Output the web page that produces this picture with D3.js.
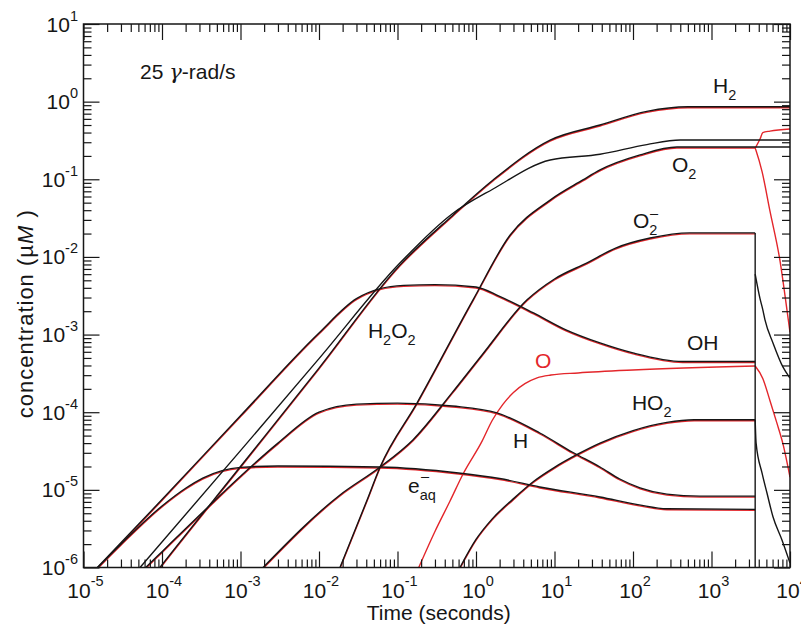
<!DOCTYPE html>
<html>
<head>
<meta charset="utf-8">
<script src="https://cdn.jsdelivr.net/npm/d3@7/dist/d3.min.js"></script>
<style>
  html, body { margin: 0; padding: 0; background: #fff; }
  svg { display: block; font-family: "Liberation Sans", Arial, Helvetica, sans-serif; }
</style>
</head>
<body>
<svg id="chart" width="801" height="625"></svg>
<script>
// ---- Species concentrations (µM) versus time (s), 25 γ-rad/s, source off at 3600 s ----
const tH2   = [5e-5, 9.4e-5, 1e-3, 1e-2, 0.108, 0.5, 1.65, 8.8, 38, 150, 500, 1e4];
const cH2   = [4.4e-7, 1e-6, 2e-5, 3.7e-4, 7.9e-3, 0.034, 0.098, 0.32, 0.5, 0.75, 0.86, 0.86];

const tH2O2 = [3e-5, 5.25e-5, 1e-3, 1e-2, 0.108, 0.5, 1.65, 8.8, 38, 150, 400, 1e4];
const cH2O2 = [5.2e-7, 1e-6, 3.2e-5, 4.9e-4, 8.4e-3, 0.036, 0.075, 0.177, 0.21, 0.28, 0.32, 0.32];

const tO2   = [0.0185, 0.041, 0.06, 0.177, 0.917, 2.71, 8.8, 23, 38, 123, 363, 3600];
const cO2   = [1e-6, 7.4e-6, 1.97e-5, 1.31e-4, 2.8e-3, 0.019, 0.054, 0.098, 0.132, 0.206, 0.26, 0.26];
const tO2tail = [3600, 1e4];
const cO2tail = [0.26, 0.26];

const tO2m  = [1.94e-3, 0.0185, 0.06, 0.157, 0.5, 1.2, 4.47, 10, 26, 60, 165, 530, 3600];
const cO2m  = [1e-6, 8.6e-6, 1.97e-5, 4.4e-5, 1.8e-4, 5.5e-4, 2.8e-3, 5.2e-3, 8.4e-3, 0.013, 0.0175, 0.0204, 0.0204];

const tOH   = [1e-5, 1e-4, 1e-3, 1e-2, 3e-2, 6e-2, 0.12, 0.3, 1, 2, 5.4, 14, 38, 100, 430, 3600];
const cOH   = [6.5e-7, 7.5e-6, 9e-5, 1.05e-3, 2.9e-3, 3.9e-3, 4.3e-3, 4.4e-3, 4.1e-3, 3.1e-3, 1.9e-3, 1.15e-3, 7.8e-4, 5.8e-4, 4.5e-4, 4.5e-4];

const tO    = [0.184, 0.3, 0.467, 0.684, 1.2, 1.6, 2.2, 3, 4.2, 6, 9, 20, 100, 3600];
const cO    = [1e-6, 3e-6, 7.4e-6, 1.65e-5, 4.4e-5, 8e-5, 1.3e-4, 1.85e-4, 2.4e-4, 2.85e-4, 3.1e-4, 3.3e-4, 3.6e-4, 4.05e-4];

const tHO2  = [0.625, 1, 1.6, 2.96, 5.5, 10, 20, 38, 100, 270, 600, 3600];
const cHO2  = [1e-6, 2.3e-6, 4.2e-6, 7.6e-6, 1.3e-5, 1.95e-5, 2.9e-5, 4e-5, 5.8e-5, 7.4e-5, 8e-5, 8e-5];

const tH    = [3e-5, 6.2e-5, 1e-4, 3e-4, 1e-3, 3e-3, 1e-2, 3e-2, 0.1, 0.5, 1.85, 6.5, 17, 38, 68, 123, 270, 714, 3600];
const cH    = [4.8e-7, 1e-6, 1.6e-6, 4.7e-6, 1.5e-5, 4e-5, 1.0e-4, 1.27e-4, 1.31e-4, 1.2e-4, 9.8e-5, 5.4e-5, 3.05e-5, 1.97e-5, 1.38e-5, 1.06e-5, 8.8e-6, 8.3e-6, 8.3e-6];

const tEaq  = [1e-5, 3e-5, 1e-4, 2e-4, 3.3e-4, 1e-3, 3e-3, 0.06, 0.6, 2, 6.5, 38, 120, 270, 3600];
const cEaq  = [6.5e-7, 2e-6, 6.2e-6, 1.05e-5, 1.42e-5, 1.95e-5, 2.03e-5, 1.97e-5, 1.65e-5, 1.4e-5, 1.09e-5, 8.1e-6, 6.4e-6, 5.7e-6, 5.6e-6];

// after the source is switched off
const beamOff = 3600;
const beamOffTop = 0.0204;
const tDecayA = [3600, 4150, 4500, 4800, 6070, 8150, 1e4];
const cDecayA = [6e-3, 2.9e-3, 2.1e-3, 1.55e-3, 7.8e-4, 3.8e-4, 2.75e-4];
const tDecayB = [3600, 3700, 4400, 5090, 6070, 7900, 1e4];
const cDecayB = [8e-5, 4e-5, 1.65e-5, 9.1e-6, 4.5e-6, 2.26e-6, 1.14e-6];
const tRedUp   = [3600, 4150, 4500, 5560, 1e4];
const cRedUp   = [0.26, 0.34, 0.41, 0.43, 0.457];
const tRedDown = [3600, 3700, 4400, 5560, 7470, 9170, 1e4];
const cRedDown = [0.26, 0.24, 0.13, 0.04, 9.1e-3, 2.1e-3, 1.1e-3];
const tRedO    = [3600, 4500, 5560, 6800, 8150, 1e4];
const cRedO    = [4.05e-4, 2.8e-4, 1.45e-4, 7.5e-5, 4e-5, 1.5e-5];

// axis decades
const xDecades = [-5, -4, -3, -2, -1, 0, 1, 2, 3, 4];
const yDecades = [-6, -5, -4, -3, -2, -1, 0, 1];

const zip = (t, c) => t.map((v, i) => [v, c[i]]);

const blackSeries = [
  zip(tH2, cH2), zip(tH2O2, cH2O2), zip(tO2, cO2), zip(tO2tail, cO2tail),
  zip(tO2m, cO2m), zip(tOH, cOH), zip(tHO2, cHO2), zip(tH, cH), zip(tEaq, cEaq),
  zip(tDecayA, cDecayA), zip(tDecayB, cDecayB)
];
const redSeries = [
  zip(tH2, cH2), zip(tO2, cO2), zip(tO2m, cO2m), zip(tOH, cOH), zip(tHO2, cHO2),
  zip(tH, cH), zip(tEaq, cEaq), zip(tO, cO),
  zip(tRedUp, cRedUp), zip(tRedDown, cRedDown), zip(tRedO, cRedO)
];

const svg = d3.select("#chart");
const L = 83.5, R = 790, T = 24, B = 567.5;
const x = d3.scaleLog().domain([1e-5, 1e4]).range([L, R]);
const y = d3.scaleLog().domain([1e-6, 1e1]).range([B, T]);

const ink = "#161616";
const red = "#e3262b";

svg.append("defs").append("clipPath").attr("id", "plot")
  .append("rect").attr("x", L).attr("y", T).attr("width", R - L).attr("height", B - T);

const line = d3.line()
  .x(d => x(d[0])).y(d => y(d[1]))
  .curve(d3.curveMonotoneX);

const g = svg.append("g").attr("clip-path", "url(#plot)");

g.append("g").attr("transform", "translate(0,1)")
  .selectAll("path").data(redSeries).join("path")
  .attr("d", line).attr("fill", "none").attr("stroke", red).attr("stroke-width", 1.4);

g.append("g")
  .selectAll("path").data(blackSeries).join("path")
  .attr("d", line).attr("fill", "none").attr("stroke", ink).attr("stroke-width", 1.4);

g.append("line")
  .attr("x1", x(beamOff)).attr("x2", x(beamOff))
  .attr("y1", y(beamOffTop)).attr("y2", y(1e-6))
  .attr("stroke", ink).attr("stroke-width", 1.4);

// ---- axes: ticks inward on all four sides ----
const majorX = xDecades.map(e => Math.pow(10, e));
const minorX = xDecades.slice(0, -1).flatMap(e => d3.range(2, 10).map(k => k * Math.pow(10, e)));
const majorY = yDecades.map(e => Math.pow(10, e));
const minorY = yDecades.slice(0, -1).flatMap(e => d3.range(2, 10).map(k => k * Math.pow(10, e)));

function drawAxis(gen, pos, ticks, size) {
  const a = svg.append("g").attr("transform", pos)
    .call(gen.tickValues(ticks).tickSize(-size).tickFormat(""));
  a.select(".domain").remove();
  a.selectAll("line").attr("stroke", ink).attr("stroke-width", 1.2);
}
[[majorX, 16], [minorX, 8]].forEach(([tk, s]) => {
  drawAxis(d3.axisBottom(x), `translate(0,${B})`, tk, s);
  drawAxis(d3.axisTop(x), `translate(0,${T})`, tk, s);
});
[[majorY, 16], [minorY, 8]].forEach(([tk, s]) => {
  drawAxis(d3.axisLeft(y), `translate(${L},0)`, tk, s);
  drawAxis(d3.axisRight(y), `translate(${R},0)`, tk, s);
});

svg.append("rect").attr("x", L).attr("y", T).attr("width", R - L).attr("height", B - T)
  .attr("fill", "none").attr("stroke", ink).attr("stroke-width", 1.5);

// tick labels 10^n
const xl = svg.append("g").selectAll("text").data(xDecades).join("text")
  .attr("x", d => x(Math.pow(10, d)) + 2).attr("y", B + 30)
  .attr("text-anchor", "middle").attr("font-size", 21).attr("fill", ink);
xl.append("tspan").text("10");
xl.append("tspan").attr("dy", -12).attr("font-size", 14.5).text(d => d);

const yl = svg.append("g").selectAll("text").data(yDecades).join("text")
  .attr("x", L - 5.5).attr("y", d => y(Math.pow(10, d)) + 7.5)
  .attr("text-anchor", "end").attr("font-size", 21).attr("fill", ink);
yl.append("tspan").text("10");
yl.append("tspan").attr("dy", -11).attr("font-size", 14.5).text(d => d);

// axis titles
svg.append("text").attr("x", (L + R) / 2 + 2).attr("y", 620)
  .attr("text-anchor", "middle").attr("font-size", 21).attr("fill", ink)
  .text("Time (seconds)");

const yt = svg.append("text").attr("transform", `translate(33,${(T + B) / 2 + 18}) rotate(-90)`)
  .attr("text-anchor", "middle").attr("font-size", 22).attr("letter-spacing", 1).attr("fill", ink);
yt.append("tspan").text("concentration (µ");
yt.append("tspan").attr("font-style", "italic").text("M");
yt.append("tspan").text(" )");

// dose-rate note
const note = svg.append("text").attr("x", x(5.25e-5)).attr("y", y(1.96))
  .attr("font-size", 21).attr("fill", ink);
note.append("tspan").text("25 ");
note.append("tspan").attr("font-style", "italic").attr("font-family", "DejaVu Serif, serif").text("γ");
note.append("tspan").text("-rad/s");

// species labels built from plain and subscript pieces
function label(t, c, parts, color) {
  const el = svg.append("text").attr("x", x(t)).attr("y", y(c))
    .attr("font-size", 21).attr("fill", color || ink);
  let shift = 0;
  parts.forEach(([txt, kind]) => {
    const sp = el.append("tspan").text(txt);
    if (kind === "sub") { sp.attr("font-size", 14.5).attr("dy", 7 - shift); shift = 7; }
    else { sp.attr("dy", -shift); shift = 0; }
  });
  return el;
}
label(1045, 1.29, [["H"], ["2", "sub"]]);
label(314, 0.124, [["O"], ["2", "sub"]]);
label(100, 0.0236, [["O"], ["2", "sub"]]);
svg.append("text").attr("x", x(100) + 17).attr("y", y(0.0236) - 10)
  .attr("font-size", 14.5).attr("fill", ink).text("\u2013");
label(0.042, 9.0e-4, [["H"], ["2", "sub"], ["O"], ["2", "sub"]]);
label(488, 6.3e-4, [["OH"]]);
label(5.65, 3.7e-4, [["O"]], red);
label(97, 1.07e-4, [["HO"], ["2", "sub"]]);
label(2.96, 3.46e-5, [["H"]]);
label(0.136, 9.1e-6, [["e"], ["aq", "sub"]]);
svg.append("text").attr("x", x(0.136) + 13).attr("y", y(9.1e-6) - 12)
  .attr("font-size", 14.5).attr("fill", ink).text("\u2013");
</script>
</body>
</html>
